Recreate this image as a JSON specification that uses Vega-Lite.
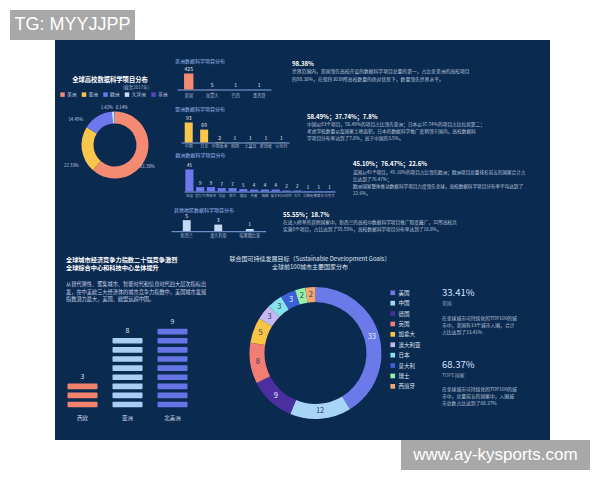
{
"$schema": "https://vega.github.io/schema/vega-lite/v6.json",
"background": "#0b2a4f",
"padding": 0,
"spacing": 0,
"resolve": {"scale": {"color": "independent"}},
"config": {
  "view": {"stroke": null},
  "font": "Noto Sans CJK SC",
  "text": {"font": "Noto Sans CJK SC"},
  "axis": {"labelFont": "Noto Sans CJK SC", "grid": false},
  "legend": {"labelFont": "Noto Sans CJK SC"}
},
"vconcat": [
  {"hconcat": [
    {"width": 10, "height": 40, "data": {"values": []}, "mark": "point", "view": {"fill": "#ffffff"}},
    {"vconcat": [
      {"width": 125, "height": 10, "data": {"values": []}, "mark": "point", "view": {"fill": "#ffffff"}},
      {"width": 125, "height": 30, "view": {"fill": "#a8a8a8"}, "data": {"values": [{"t": "TG: MYYJJPP"}]}, "mark": {"type": "text", "font": "Liberation Sans", "fontSize": 18, "color": "#ffffff"}, "encoding": {"text": {"field": "t", "type": "nominal"}}}
    ], "spacing": 0},
    {"width": 465, "height": 40, "data": {"values": []}, "mark": "point", "view": {"fill": "#ffffff"}}
  ], "spacing": 0},
  {"hconcat": [
    {"width": 55, "height": 400, "data": {"values": []}, "mark": "point", "view": {"fill": "#ffffff"}},
    {"vconcat": [
      {"hconcat": [
        {"vconcat": [
          {"width": 110, "height": 36.8, "data": {"values": []}, "mark": "point"},
          {"width": 110, "height": 14.5, "layer": [
            {"data": {"values": [{"t": "全球高校数据科学项目分布"}]}, "mark": {"type": "text", "fontSize": 6.3, "fontWeight": "bold", "color": "#ffffff", "baseline": "top", "dx": -5}, "encoding": {"text": {"field": "t", "type": "nominal"}, "y": {"value": 0}}},
            {"data": {"values": [{"t": "(截至2017年)"}]}, "mark": {"type": "text", "fontSize": 4.5, "color": "#9fb0cc", "baseline": "top", "dx": 21, "dy": 7.5}, "encoding": {"text": {"field": "t", "type": "nominal"}, "y": {"value": 0}}}
          ]},
          {"width": 110, "height": 84,
           "data": {"values": [
             {"region": "美洲", "share": 0.6138},
             {"region": "亚洲", "share": 0.2233},
             {"region": "欧洲", "share": 0.1449},
             {"region": "大洋洲", "share": 0.0142},
             {"region": "非洲", "share": 0.0014}
           ]},
           "encoding": {"theta": {"field": "share", "type": "quantitative", "stack": true}, "order": {"field": "share", "sort": "descending"}},
           "layer": [
             {"mark": {"type": "arc", "outerRadius": 33.5, "innerRadius": 21.5}, "encoding": {"color": {"field": "region", "type": "nominal", "scale": {"domain": ["美洲", "亚洲", "欧洲", "大洋洲", "非洲"], "range": ["#f58a73", "#f9c54b", "#6c78ec", "#c4dcf8", "#5a45c2"]}, "legend": {"title": null, "orient": "top", "direction": "horizontal", "symbolType": "square", "symbolSize": 20, "labelFontSize": 4.8, "labelColor": "#c8d4e8", "columnPadding": 4.5, "labelOffset": 2, "offset": 5.7, "padding": 0, "symbolStrokeWidth": 0}}}},
             {"mark": {"type": "text", "radius": 40, "dx": -5, "dy": 8, "fontSize": 4.3, "color": "#c4d0e6"}, "encoding": {"text": {"condition": {"test": "datum.region === '美洲'", "field": "share", "type": "quantitative", "format": ".2%"}, "value": ""}}},
             {"mark": {"type": "text", "radius": 44, "dy": 15, "fontSize": 4.3, "color": "#c4d0e6"}, "encoding": {"text": {"condition": {"test": "datum.region === '亚洲'", "field": "share", "type": "quantitative", "format": ".2%"}, "value": ""}}},
             {"mark": {"type": "text", "radius": 44, "dx": -16, "dy": 12, "fontSize": 4.3, "color": "#c4d0e6"}, "encoding": {"text": {"condition": {"test": "datum.region === '欧洲'", "field": "share", "type": "quantitative", "format": ".2%"}, "value": ""}}},
             {"mark": {"type": "text", "radius": 39, "dx": -6, "dy": 2, "fontSize": 4.3, "color": "#c4d0e6"}, "encoding": {"text": {"condition": {"test": "datum.region === '大洋洲'", "field": "share", "type": "quantitative", "format": ".2%"}, "value": ""}}},
             {"mark": {"type": "text", "radius": 39, "dx": 7, "dy": 2, "fontSize": 4.3, "color": "#c4d0e6"}, "encoding": {"text": {"condition": {"test": "datum.region === '非洲'", "field": "share", "type": "quantitative", "format": ".2%"}, "value": ""}}}
           ]},
          {"width": 110, "height": 38, "data": {"values": []}, "mark": "point"}
        ], "spacing": 0, "resolve": {"scale": {"color": "independent"}}},
        {"vconcat": [
          {"hconcat": [
            {"width": 5, "height": 63, "data": {"values": []}, "mark": "point"},
            {"vconcat": [
              {"width": 94, "height": 18.5, "data": {"values": []}, "mark": "point"},
              {"width": 94, "height": 30.5, "layer": [
                {"data": {"values": [{"c": "美国", "v": 425}, {"c": "加拿大", "v": 5}, {"c": "巴西", "v": 1}, {"c": "墨西哥", "v": 1}]},
                 "mark": {"type": "bar", "color": "#f58a73"},
                 "encoding": {"x": {"field": "c", "type": "nominal", "sort": null, "scale": {"paddingInner": 0.6, "paddingOuter": 0.3}, "axis": {"title": null, "labelAngle": 0, "ticks": false, "domainColor": "#86a6e6", "labelFontSize": 4.2, "labelColor": "#a5b5d2", "labelPadding": 4, "labelOverlap": false, "labelLimit": 60}}, "y": {"field": "v", "type": "quantitative", "scale": {"domain": [0, 810], "nice": false}, "axis": null}}},
                {"data": {"values": [{"c": "美国", "v": 425}, {"c": "加拿大", "v": 5}, {"c": "巴西", "v": 1}, {"c": "墨西哥", "v": 1}]},
                 "mark": {"type": "text", "baseline": "bottom", "dy": -1.5, "fontSize": 5, "color": "#e6ecf8"},
                 "encoding": {"x": {"field": "c", "type": "nominal", "sort": null}, "y": {"field": "v", "type": "quantitative"}, "text": {"field": "v", "type": "quantitative"}}},
                {"data": {"values": [{"t": "美洲数据科学项目分布"}]}, "mark": {"type": "text", "align": "left", "baseline": "top", "dx": -2, "fontSize": 5, "color": "#9dbcf0"}, "encoding": {"text": {"field": "t", "type": "nominal"}, "x": {"value": 0}, "y": {"value": 0}}}
              ]}
            ], "spacing": 0},
            {"width": 21, "height": 63, "data": {"values": []}, "mark": "point"},
            {"vconcat": [
              {"width": 257, "height": 20.3, "data": {"values": []}, "mark": "point"},
              {"width": 257, "height": 36, "layer": [
                {"data": {"values": [{"t": "98.38%"}]}, "mark": {"type": "text", "align": "left", "baseline": "top", "fontSize": 6, "fontWeight": "bold", "color": "#ffffff"}, "encoding": {"text": {"field": "t", "type": "nominal"}, "x": {"value": 0}, "y": {"value": 0}}},
                {"data": {"values": [{"t": ["世界范围内，美国领先高校开设的数据科学项目总量的第一，占比全美洲的高校项目", "的98.38%，在保持3039所高校数量的绝对优势下，数量领先世界水平。"]}]}, "mark": {"type": "text", "align": "left", "baseline": "top", "fontSize": 4.8, "lineHeight": 7.8, "dy": 8.3, "color": "#b9c6dc"}, "encoding": {"text": {"field": "t", "type": "nominal"}, "x": {"value": 0}, "y": {"value": 0}}}
              ]}
            ], "spacing": 0}
          ], "spacing": 0},
          {"hconcat": [
            {"width": 5, "height": 49, "data": {"values": []}, "mark": "point"},
            {"vconcat": [
              {"width": 108, "height": 3.5, "data": {"values": []}, "mark": "point"},
              {"width": 108, "height": 35.5, "layer": [
                {"data": {"values": [{"c": "中国", "v": 93}, {"c": "日本", "v": 60}, {"c": "中国香港", "v": 2}, {"c": "韩国", "v": 1}, {"c": "土耳其", "v": 1}, {"c": "新加坡", "v": 1}, {"c": "以色列", "v": 1}]},
                 "mark": {"type": "bar", "color": "#f9c54b"},
                 "encoding": {"x": {"field": "c", "type": "nominal", "sort": null, "scale": {"paddingInner": 0.48, "paddingOuter": 0.24}, "axis": {"title": null, "labelAngle": 0, "ticks": false, "domainColor": "#86a6e6", "labelFontSize": 4, "labelColor": "#a5b5d2", "labelPadding": 2, "labelOverlap": false, "labelLimit": 60}}, "y": {"field": "v", "type": "quantitative", "scale": {"domain": [0, 165], "nice": false}, "axis": null}}},
                {"data": {"values": [{"c": "中国", "v": 93}, {"c": "日本", "v": 60}, {"c": "中国香港", "v": 2}, {"c": "韩国", "v": 1}, {"c": "土耳其", "v": 1}, {"c": "新加坡", "v": 1}, {"c": "以色列", "v": 1}]},
                 "mark": {"type": "text", "baseline": "bottom", "dy": -1.5, "fontSize": 5, "color": "#e6ecf8"},
                 "encoding": {"x": {"field": "c", "type": "nominal", "sort": null}, "y": {"field": "v", "type": "quantitative"}, "text": {"field": "v", "type": "quantitative"}}},
                {"data": {"values": [{"t": "亚洲数据科学项目分布"}]}, "mark": {"type": "text", "align": "left", "baseline": "top", "dx": -6, "fontSize": 5, "color": "#9dbcf0"}, "encoding": {"text": {"field": "t", "type": "nominal"}, "x": {"value": 0}, "y": {"value": 0}}}
              ]}
            ], "spacing": 0},
            {"width": 18, "height": 49, "data": {"values": []}, "mark": "point"},
            {"vconcat": [
              {"width": 242, "height": 10.7, "data": {"values": []}, "mark": "point"},
              {"width": 242, "height": 34, "layer": [
                {"data": {"values": [{"t": "58.49%；37.74%；7.8%"}]}, "mark": {"type": "text", "align": "left", "baseline": "top", "fontSize": 6, "fontWeight": "bold", "color": "#ffffff"}, "encoding": {"text": {"field": "t", "type": "nominal"}, "x": {"value": 0}, "y": {"value": 0}}},
                {"data": {"values": [{"t": ["中国以93个项目，58.49%的项目占比领先亚洲；日本以37.74%的项目占比位居第二；", "考虑学校数量以及国家土地面积，日本的数据科学推广度稍领于国内，高校数据科", "学项目分布率达到了7.8%，高于中国的3.5%。"]}]}, "mark": {"type": "text", "align": "left", "baseline": "top", "fontSize": 4.7, "lineHeight": 7, "dy": 8.2, "color": "#b9c6dc"}, "encoding": {"text": {"field": "t", "type": "nominal"}, "x": {"value": 0}, "y": {"value": 0}}}
              ]}
            ], "spacing": 0}
          ], "spacing": 0},
          {"hconcat": [
            {"width": 5, "height": 48, "data": {"values": []}, "mark": "point"},
            {"vconcat": [
              {"width": 151, "height": 0.5, "data": {"values": []}, "mark": "point"},
              {"width": 151, "height": 38.5, "layer": [
                {"data": {"values": [{"c": "英国", "v": 45}, {"c": "爱尔兰", "v": 9}, {"c": "西班牙", "v": 9}, {"c": "法国", "v": 7}, {"c": "荷兰", "v": 7}, {"c": "德国", "v": 5}, {"c": "丹麦", "v": 4}, {"c": "瑞典", "v": 4}, {"c": "意大利", "v": 4}, {"c": "比利时", "v": 2}, {"c": "芬兰", "v": 2}, {"c": "立陶宛", "v": 1}, {"c": "葡萄牙", "v": 1}, {"c": "乌克兰", "v": 1}]},
                 "mark": {"type": "bar", "color": "#6c78ec"},
                 "encoding": {"x": {"field": "c", "type": "nominal", "sort": null, "scale": {"paddingInner": 0.25, "paddingOuter": 0.125}, "axis": {"title": null, "labelAngle": 0, "ticks": false, "domainColor": "#86a6e6", "labelFontSize": 3.5, "labelColor": "#a5b5d2", "labelPadding": 2, "labelOverlap": false, "labelLimit": 60}}, "y": {"field": "v", "type": "quantitative", "scale": {"domain": [0, 78.75], "nice": false}, "axis": null}}},
                {"data": {"values": [{"c": "英国", "v": 45}, {"c": "爱尔兰", "v": 9}, {"c": "西班牙", "v": 9}, {"c": "法国", "v": 7}, {"c": "荷兰", "v": 7}, {"c": "德国", "v": 5}, {"c": "丹麦", "v": 4}, {"c": "瑞典", "v": 4}, {"c": "意大利", "v": 4}, {"c": "比利时", "v": 2}, {"c": "芬兰", "v": 2}, {"c": "立陶宛", "v": 1}, {"c": "葡萄牙", "v": 1}, {"c": "乌克兰", "v": 1}]},
                 "mark": {"type": "text", "baseline": "bottom", "dy": -1.5, "fontSize": 4.5, "color": "#e6ecf8"},
                 "encoding": {"x": {"field": "c", "type": "nominal", "sort": null}, "y": {"field": "v", "type": "quantitative"}, "text": {"field": "v", "type": "quantitative"}}},
                {"data": {"values": [{"t": "欧洲数据科学项目分布"}]}, "mark": {"type": "text", "align": "left", "baseline": "top", "dx": -8.6, "fontSize": 5, "color": "#9dbcf0"}, "encoding": {"text": {"field": "t", "type": "nominal"}, "x": {"value": 0}, "y": {"value": 0}}}
              ]}
            ], "spacing": 0},
            {"width": 18, "height": 48, "data": {"values": []}, "mark": "point"},
            {"vconcat": [
              {"width": 196, "height": 8.3, "data": {"values": []}, "mark": "point"},
              {"width": 196, "height": 37, "layer": [
                {"data": {"values": [{"t": "45.10%；76.47%；22.6%"}]}, "mark": {"type": "text", "align": "left", "baseline": "top", "fontSize": 6, "fontWeight": "bold", "color": "#ffffff"}, "encoding": {"text": {"field": "t", "type": "nominal"}, "x": {"value": 0}, "y": {"value": 0}}},
                {"data": {"values": [{"t": ["英国以45个项目，45.10%的项目占比领先欧洲；欧洲项目总量排名前五的国家合计占", "比达到了76.47%；", "欧洲国家整体推动数据科学项目力度领先全球，高校数据科学项目分布率平均达到了", "22.6%。"]}]}, "mark": {"type": "text", "align": "left", "baseline": "top", "fontSize": 4.6, "lineHeight": 7, "dy": 9, "color": "#b9c6dc"}, "encoding": {"text": {"field": "t", "type": "nominal"}, "x": {"value": 0}, "y": {"value": 0}}}
              ]}
            ], "spacing": 0}
          ], "spacing": 0},
          {"hconcat": [
            {"width": 1, "height": 40, "data": {"values": []}, "mark": "point"},
            {"vconcat": [
              {"width": 94.5, "height": 7.5, "data": {"values": []}, "mark": "point"},
              {"width": 94.5, "height": 23.2, "layer": [
                {"data": {"values": [{"c": "新西兰", "v": 5}, {"c": "澳大利亚", "v": 3}, {"c": "埃塞俄比亚", "v": 1}]},
                 "mark": {"type": "bar", "color": "#c2daf8"},
                 "encoding": {"x": {"field": "c", "type": "nominal", "sort": null, "scale": {"paddingInner": 0.75, "paddingOuter": 0.375}, "axis": {"title": null, "labelAngle": 0, "ticks": false, "domainColor": "#86a6e6", "labelFontSize": 4.2, "labelColor": "#a5b5d2", "labelPadding": 2, "labelOverlap": false, "labelLimit": 60}}, "y": {"field": "v", "type": "quantitative", "scale": {"domain": [0, 10.5], "nice": false}, "axis": null}}},
                {"data": {"values": [{"c": "新西兰", "v": 5}, {"c": "澳大利亚", "v": 3}, {"c": "埃塞俄比亚", "v": 1}]},
                 "mark": {"type": "text", "baseline": "bottom", "dy": -1.5, "fontSize": 5, "color": "#e6ecf8"},
                 "encoding": {"x": {"field": "c", "type": "nominal", "sort": null}, "y": {"field": "v", "type": "quantitative"}, "text": {"field": "v", "type": "quantitative"}}},
                {"data": {"values": [{"t": "其他地区数据科学项目分布"}]}, "mark": {"type": "text", "align": "left", "baseline": "top", "dx": 3, "fontSize": 5, "color": "#9dbcf0"}, "encoding": {"text": {"field": "t", "type": "nominal"}, "x": {"value": 0}, "y": {"value": 0}}}
              ]}
            ], "spacing": 0},
            {"width": 16.5, "height": 40, "data": {"values": []}, "mark": "point"},
            {"vconcat": [
              {"width": 267, "height": 11.3, "data": {"values": []}, "mark": "point"},
              {"width": 267, "height": 24, "layer": [
                {"data": {"values": [{"t": "55.55%；18.7%"}]}, "mark": {"type": "text", "align": "left", "baseline": "top", "fontSize": 6, "fontWeight": "bold", "color": "#ffffff"}, "encoding": {"text": {"field": "t", "type": "nominal"}, "x": {"value": 0}, "y": {"value": 0}}},
                {"data": {"values": [{"t": ["在进入榜单的其他国家中，新西兰的高校中数据科学项目推广程度最广，32所高校共", "实施5个项目，占比达到了55.55%，高校数据科学项目分布率达到了18.8%。"]}]}, "mark": {"type": "text", "align": "left", "baseline": "top", "fontSize": 4.7, "lineHeight": 7.3, "dy": 8, "color": "#b9c6dc"}, "encoding": {"text": {"field": "t", "type": "nominal"}, "x": {"value": 0}, "y": {"value": 0}}}
              ]}
            ], "spacing": 0}
          ], "spacing": 0}
        ], "spacing": 0}
      ], "spacing": 0, "resolve": {"scale": {"color": "independent"}}},
      {"hconcat": [
        {"vconcat": [
          {"width": 160, "height": 16.5, "data": {"values": []}, "mark": "point"},
          {"hconcat": [
            {"width": 6, "height": 53.5, "data": {"values": []}, "mark": "point"},
            {"width": 154, "height": 53.5, "layer": [
              {"data": {"values": [{"t": ["全球城市经济竞争力指数二十强竞争激烈", "全球综合中心和科技中心总体提升"]}]}, "mark": {"type": "text", "align": "left", "baseline": "top", "fontSize": 6.2, "lineHeight": 7.6, "fontWeight": "bold", "color": "#ffffff"}, "encoding": {"text": {"field": "t", "type": "nominal"}, "x": {"value": 0}, "y": {"value": 0}}},
              {"data": {"values": [{"t": ["从替代弹性、聚集城市、智能时代和信息时代四大层次指标出", "发，在中美欧三大经济体的城市竞争力指数中，美国城市发展", "指数潜力最大，美国、欧盟远超中国。"]}]}, "mark": {"type": "text", "align": "left", "baseline": "top", "fontSize": 5.2, "lineHeight": 7.5, "dy": 25, "color": "#c8d4e8"}, "encoding": {"text": {"field": "t", "type": "nominal"}, "x": {"value": 0}, "y": {"value": 0}}}
            ]}
          ], "spacing": 0},
          {"width": 160, "height": 6.9, "data": {"values": []}, "mark": "point"},
          {"width": 135, "height": 91.1, "layer": [
            {"data": {"values": [
              {"region": "西欧", "idx": 1}, {"region": "西欧", "idx": 2}, {"region": "西欧", "idx": 3},
              {"region": "亚洲", "idx": 1}, {"region": "亚洲", "idx": 2}, {"region": "亚洲", "idx": 3}, {"region": "亚洲", "idx": 4}, {"region": "亚洲", "idx": 5}, {"region": "亚洲", "idx": 6}, {"region": "亚洲", "idx": 7}, {"region": "亚洲", "idx": 8},
              {"region": "北美洲", "idx": 1}, {"region": "北美洲", "idx": 2}, {"region": "北美洲", "idx": 3}, {"region": "北美洲", "idx": 4}, {"region": "北美洲", "idx": 5}, {"region": "北美洲", "idx": 6}, {"region": "北美洲", "idx": 7}, {"region": "北美洲", "idx": 8}, {"region": "北美洲", "idx": 9}
             ]},
             "mark": {"type": "rect", "cornerRadius": 1},
             "encoding": {
               "x": {"field": "region", "type": "nominal", "sort": ["西欧", "亚洲", "北美洲"], "scale": {"paddingInner": 0.333, "paddingOuter": 0.1667}, "axis": {"title": null, "labelAngle": 0, "ticks": false, "domain": false, "labelFontSize": 5.5, "labelColor": "#c8d4e8", "labelPadding": 6}},
               "y": {"field": "idx", "type": "ordinal", "scale": {"domain": [10, 9, 8, 7, 6, 5, 4, 3, 2, 1], "paddingInner": 0.38, "paddingOuter": 0.19}, "axis": null},
               "color": {"condition": [{"test": "datum.region === '西欧'", "value": "#f0826e"}, {"test": "datum.region === '亚洲'", "value": "#a9cdf5"}], "value": "#6674e6"}
             }},
            {"data": {"values": [{"region": "西欧", "n": 3}, {"region": "亚洲", "n": 8}, {"region": "北美洲", "n": 9}]},
             "mark": {"type": "text", "dy": -9.6, "fontSize": 7, "color": "#d6e0f2"},
             "encoding": {"x": {"field": "region", "type": "nominal", "sort": ["西欧", "亚洲", "北美洲"]}, "y": {"field": "n", "type": "ordinal"}, "text": {"field": "n", "type": "quantitative"}}}
          ]},
          {"width": 160, "height": 10, "data": {"values": []}, "mark": "point"}
        ], "spacing": 0},
        {"vconcat": [
          {"width": 180, "height": 15.5, "data": {"values": []}, "mark": "point"},
          {"width": 180, "height": 29.5, "data": {"values": [{"t": ["联合国可持续发展目标（Sustainable Development Goals）", "全球前100城市主要国家分布"]}]}, "mark": {"type": "text", "fontSize": 6, "lineHeight": 7.7, "color": "#dfe6f2", "baseline": "top"}, "encoding": {"text": {"field": "t", "type": "nominal"}, "y": {"value": 0}}},
          {"hconcat": [
            {"width": 27, "height": 134, "data": {"values": []}, "mark": "point"},
            {"width": 137, "height": 134,
             "data": {"values": [
               {"country": "美国", "n": 33}, {"country": "中国", "n": 12}, {"country": "德国", "n": 9}, {"country": "英国", "n": 8}, {"country": "加拿大", "n": 5},
               {"country": "澳大利亚", "n": 3}, {"country": "日本", "n": 3}, {"country": "意大利", "n": 3}, {"country": "瑞士", "n": 2}, {"country": "西班牙", "n": 2}
             ]},
             "encoding": {"theta": {"field": "n", "type": "quantitative", "stack": true}, "order": {"field": "n", "sort": "descending"}},
             "layer": [
               {"mark": {"type": "arc", "outerRadius": 66, "innerRadius": 51}, "encoding": {"color": {"field": "country", "type": "nominal", "scale": {"domain": ["美国", "中国", "德国", "英国", "加拿大", "澳大利亚", "日本", "意大利", "瑞士", "西班牙"], "range": ["#6b7ae8", "#a8d4f8", "#4b2f9e", "#f27d72", "#f9c443", "#c6b8f4", "#86e3ec", "#3b60d8", "#96f0a8", "#f4a673"]}, "legend": {"title": null, "orient": "right", "offset": 2, "padding": 4, "symbolType": "square", "symbolSize": 22, "symbolStrokeWidth": 0, "labelFontSize": 5.5, "labelColor": "#dfe6f2", "rowPadding": 3.4, "labelOffset": 3}}}},
               {"mark": {"type": "text", "radius": 58.5, "fontSize": 7.5}, "encoding": {"text": {"field": "n", "type": "quantitative"}, "color": {"condition": {"test": "indexof(['美国','德国','意大利'], datum.country) >= 0", "value": "#eef2ff"}, "value": "#2f3a5c"}}}
             ]}
          ], "spacing": 0, "resolve": {"scale": {"color": "independent"}}},
          {"width": 180, "height": 15, "data": {"values": []}, "mark": "point"}
        ], "spacing": 0, "resolve": {"scale": {"color": "independent"}}},
        {"hconcat": [
          {"width": 16.3, "height": 200, "data": {"values": []}, "mark": "point"},
          {"width": 100, "height": 190, "layer": [
            {"data": {"values": [{"t": "33.41%"}]}, "mark": {"type": "text", "align": "left", "baseline": "top", "fontSize": 9.5, "dy": 47.7, "color": "#d4e2ff"}, "encoding": {"text": {"field": "t", "type": "nominal"}, "x": {"value": 0}, "y": {"value": 0}}},
            {"data": {"values": [{"t": "美国"}]}, "mark": {"type": "text", "align": "left", "baseline": "top", "fontSize": 4.8, "dy": 61, "color": "#9aa8c0"}, "encoding": {"text": {"field": "t", "type": "nominal"}, "x": {"value": 0}, "y": {"value": 0}}},
            {"data": {"values": [{"t": ["在全球城市可持续化的TOP100的城", "市中，美国有33个城市入围，合计", "占比达到了33.41%"]}]}, "mark": {"type": "text", "align": "left", "baseline": "top", "fontSize": 4.8, "lineHeight": 7, "dy": 76, "color": "#b9c6dc"}, "encoding": {"text": {"field": "t", "type": "nominal"}, "x": {"value": 0}, "y": {"value": 0}}},
            {"data": {"values": [{"t": "68.37%"}]}, "mark": {"type": "text", "align": "left", "baseline": "top", "fontSize": 9.5, "dy": 119.5, "color": "#d4e2ff"}, "encoding": {"text": {"field": "t", "type": "nominal"}, "x": {"value": 0}, "y": {"value": 0}}},
            {"data": {"values": [{"t": "TOP5 国家"}]}, "mark": {"type": "text", "align": "left", "baseline": "top", "fontSize": 4.8, "dy": 132.6, "color": "#9aa8c0"}, "encoding": {"text": {"field": "t", "type": "nominal"}, "x": {"value": 0}, "y": {"value": 0}}},
            {"data": {"values": [{"t": ["在全球城市可持续化的TOP100的城", "市中，总量前五的国家中，入围城", "市总数占比达到了68.37%"]}]}, "mark": {"type": "text", "align": "left", "baseline": "top", "fontSize": 4.8, "lineHeight": 7, "dy": 147, "color": "#b9c6dc"}, "encoding": {"text": {"field": "t", "type": "nominal"}, "x": {"value": 0}, "y": {"value": 0}}}
          ]}
        ], "spacing": 0}
      ], "spacing": 0, "resolve": {"scale": {"color": "independent"}}}
    ], "spacing": 0, "resolve": {"scale": {"color": "independent"}}},
    {"width": 56, "height": 400, "data": {"values": []}, "mark": "point", "view": {"fill": "#ffffff"}}
  ], "spacing": 0, "resolve": {"scale": {"color": "independent"}}},
  {"hconcat": [
    {"width": 401, "height": 40, "data": {"values": []}, "mark": "point", "view": {"fill": "#ffffff"}},
    {"vconcat": [
      {"width": 189, "height": 30, "view": {"fill": "#a8a8a8"}, "data": {"values": [{"t": "www.ay-kysports.com"}]}, "mark": {"type": "text", "font": "Liberation Sans", "fontSize": 17, "color": "#ffffff"}, "encoding": {"text": {"field": "t", "type": "nominal"}}},
      {"width": 189, "height": 10, "data": {"values": []}, "mark": "point", "view": {"fill": "#ffffff"}}
    ], "spacing": 0},
    {"width": 10, "height": 40, "data": {"values": []}, "mark": "point", "view": {"fill": "#ffffff"}}
  ], "spacing": 0}
]
}
